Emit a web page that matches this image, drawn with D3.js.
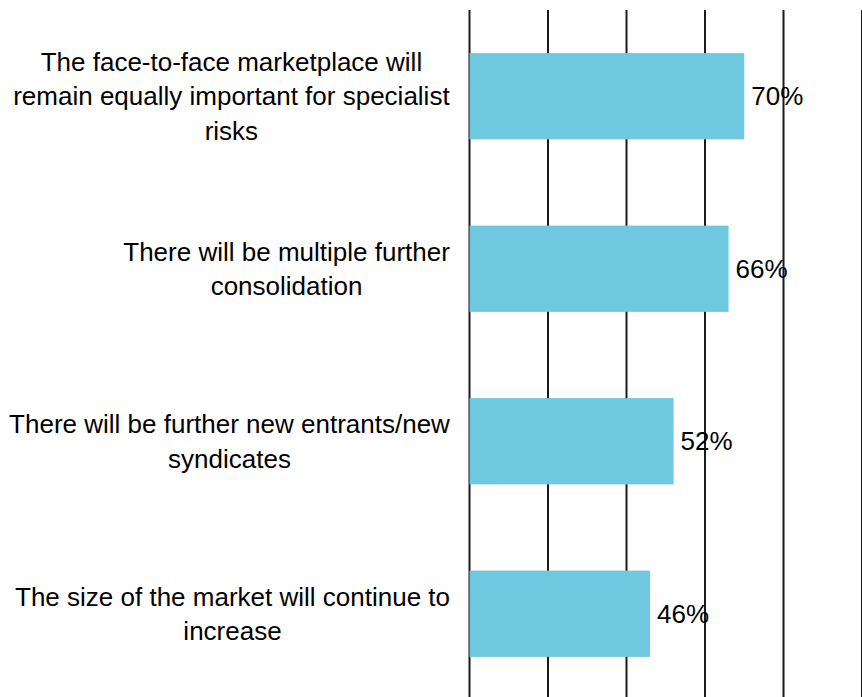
<!DOCTYPE html>
<html>
<head>
<meta charset="utf-8">
<script src="https://cdn.jsdelivr.net/npm/d3@7"></script>
<style>
  html, body { margin: 0; padding: 0; background: #fff; }
  svg { display: block; }
  text { font-family: "Liberation Sans", Arial, sans-serif; fill: #000; }
</style>
</head>
<body>
<script>
// Survey statements (each entry is a list of wrapped lines) and share agreeing
const categories = [
  ["The face-to-face marketplace will", "remain equally important for specialist", "risks"],
  ["There will be multiple further", "consolidation"],
  ["There will be further new entrants/new", "syndicates"],
  ["The size of the market will continue to", "increase"]
];
const values = [70, 66, 52, 46];
const gridTicks = [0, 20, 40, 60, 80, 100];

const W = 862, H = 697;
const fontSize = 26;
const lineH = 34.5;

const svg = d3.select("body").append("svg")
  .attr("width", W).attr("height", H);

const x = d3.scaleLinear().domain([0, 100]).range([469.5, 862]);
const y = d3.scaleBand()
  .domain(d3.range(categories.length))
  .range([10, 700])
  .paddingInner(0.5)
  .paddingOuter(0.25);

// vertical gridlines
svg.append("g")
  .selectAll("line")
  .data(gridTicks)
  .join("line")
  .attr("x1", d => x(d)).attr("x2", d => x(d))
  .attr("y1", 10).attr("y2", H)
  .attr("stroke", "#1a1a1a")
  .attr("stroke-width", 2);

// bars
svg.append("g")
  .selectAll("rect")
  .data(values)
  .join("rect")
  .attr("x", x(0))
  .attr("y", (d, i) => y(i))
  .attr("width", d => x(d) - x(0))
  .attr("height", y.bandwidth())
  .attr("fill", "#6ec8df");

// value labels
svg.append("g")
  .selectAll("text")
  .data(values)
  .join("text")
  .attr("x", d => x(d) + 7)
  .attr("y", (d, i) => y(i) + y.bandwidth() / 2)
  .attr("dy", "0.35em")
  .style("font-size", fontSize + "px")
  .text(d => d + "%");

// category labels: block right edge at 450, lines centred within the block
const labelRight = 450;
const labels = svg.append("g");
categories.forEach((lines, i) => {
  const g = labels.append("g");
  const cy = y(i) + y.bandwidth() / 2;
  const t = g.append("text")
    .attr("text-anchor", "middle")
    .style("font-size", fontSize + "px");
  lines.forEach((ln, j) => {
    t.append("tspan")
      .attr("x", 0)
      .attr("y", cy + (j - (lines.length - 1) / 2) * lineH)
      .attr("dy", "0.35em")
      .text(ln);
  });
  const bw = t.node().getBBox().width;
  t.attr("transform", `translate(${labelRight - bw / 2},0)`);
});
</script>
</body>
</html>
